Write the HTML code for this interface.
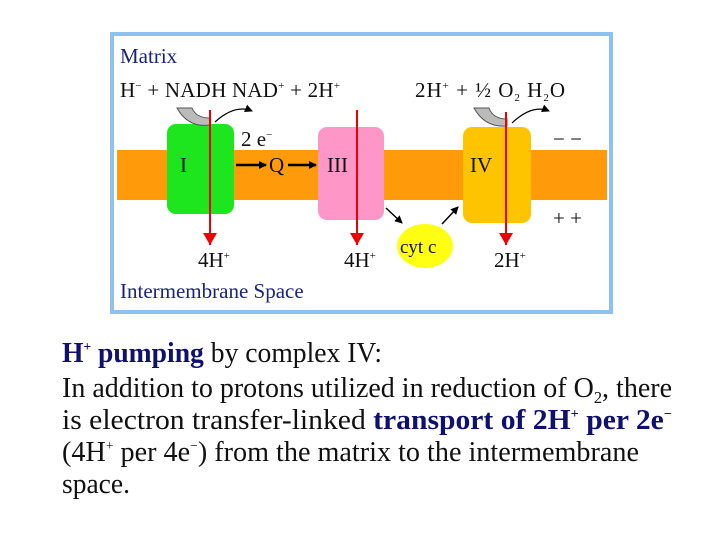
<!DOCTYPE html>
<html><head><meta charset="utf-8"><style>
body{margin:0;width:720px;height:540px;background:#fff;overflow:hidden;font-family:"Liberation Serif",serif;}
.ln{position:absolute;left:62px;white-space:nowrap;font-size:29px;line-height:29px;transform-origin:0 0;color:#111;}
.ln b{color:#0f1070;}
sup{font-size:14px;vertical-align:11px;line-height:0}
sub{font-size:17px;vertical-align:-6px;line-height:0}
</style></head><body>
<svg width="720" height="320" style="position:absolute;left:0;top:0" font-family="Liberation Serif, serif">
<defs>
<marker id="rh" markerWidth="14" markerHeight="14" refX="12" refY="7" orient="auto" markerUnits="userSpaceOnUse"><path d="M0,0 L12,7 L0,14 Z" fill="#e00"/></marker>
<marker id="bh" markerWidth="8" markerHeight="8" refX="7" refY="4" orient="auto" markerUnits="userSpaceOnUse"><path d="M0,0 L8,4 L0,8 Z" fill="#000"/></marker>
</defs>
<rect x="112" y="34" width="499" height="278" fill="#fff" stroke="#8fc1f0" stroke-width="4"/>
<rect x="117" y="150" width="490" height="50" fill="#ff9a0a"/>
<rect x="167" y="124" width="67" height="90" rx="9" fill="#1ee61e"/>
<rect x="318" y="127" width="66" height="93" rx="9" fill="#ff96c8"/>
<rect x="463" y="127" width="68" height="96" rx="9" fill="#ffc400"/>
<ellipse cx="425" cy="246" rx="28" ry="22" fill="#ffff14"/>
<path d="M177,108 Q188,128 210,125 L210,118 Q196,118 192,108 Z" fill="#bbb" stroke="#555" stroke-width="1"/>
<path d="M215,122 Q235,104 252,111" fill="none" stroke="#000" stroke-width="1.2" marker-end="url(#bh)"/>
<path d="M474,108 Q485,128 507,126 L507,119 Q493,119 489,108 Z" fill="#bbb" stroke="#555" stroke-width="1"/>
<path d="M512,123 Q532,104 549,111" fill="none" stroke="#000" stroke-width="1.2" marker-end="url(#bh)"/>
<line x1="210" y1="110" x2="210" y2="245" stroke="#e00" stroke-width="2" marker-end="url(#rh)"/>
<line x1="357" y1="110" x2="357" y2="245" stroke="#e00" stroke-width="2" marker-end="url(#rh)"/>
<line x1="506" y1="112" x2="506" y2="245" stroke="#e00" stroke-width="2" marker-end="url(#rh)"/>
<line x1="236" y1="165" x2="266" y2="165" stroke="#000" stroke-width="2.5" marker-end="url(#bh)"/>
<line x1="288" y1="165" x2="316" y2="165" stroke="#000" stroke-width="2.5" marker-end="url(#bh)"/>
<line x1="386" y1="208" x2="402" y2="223" stroke="#000" stroke-width="1.5" marker-end="url(#bh)"/>
<line x1="442" y1="224" x2="458" y2="207" stroke="#000" stroke-width="1.5" marker-end="url(#bh)"/>
<g font-size="21" fill="#111">
<text x="120" y="63" fill="#1a237e">Matrix</text>
<text x="120" y="97" textLength="220">H<tspan font-size="11" dy="-8">−</tspan><tspan dy="8"> + NADH  NAD</tspan><tspan font-size="11" dy="-8">+</tspan><tspan dy="8"> + 2H</tspan><tspan font-size="11" dy="-8">+</tspan></text>
<text x="415" y="97" textLength="150">2H<tspan font-size="11" dy="-8">+</tspan><tspan dy="8"> + ½ O</tspan><tspan font-size="11" dy="4">2</tspan><tspan dy="-4">  H</tspan><tspan font-size="11" dy="4">2</tspan><tspan dy="-4">O</tspan></text>
<text x="241" y="146">2 e<tspan font-size="11" dy="-8">−</tspan></text>
<text x="180" y="172">I</text>
<text x="269" y="172">Q</text>
<text x="327" y="172">III</text>
<text x="470" y="172">IV</text>
<text x="553" y="146">− −</text>
<text x="553" y="225">+ +</text>
<text x="400" y="253" font-size="19">cyt c</text>
<text x="198" y="267">4H<tspan font-size="11" dy="-8">+</tspan></text>
<text x="344" y="267">4H<tspan font-size="11" dy="-8">+</tspan></text>
<text x="494" y="267">2H<tspan font-size="11" dy="-8">+</tspan></text>
<text x="120" y="298" fill="#1a237e">Intermembrane Space</text>
</g>
</svg>
<div class="ln" data-w="320" style="top:339px"><b>H<sup>+</sup> pumping</b> by complex IV:</div>
<div class="ln" data-w="610" style="top:374px">In addition to protons utilized in reduction of O<sub>2</sub>, there</div>
<div class="ln" data-w="610" style="top:406px">is electron transfer-linked <b>transport of 2H<sup>+</sup> per 2e<sup>−</sup></b></div>
<div class="ln" data-w="577" style="top:438px">(4H<sup>+</sup> per 4e<sup>−</sup>) from the matrix to the intermembrane</div>
<div class="ln" data-w="68" style="top:470px">space.</div>
<script>
document.querySelectorAll('.ln').forEach(function(el){
  var w=el.getBoundingClientRect().width;
  var t=parseFloat(el.getAttribute('data-w'));
  el.style.transform='scaleX('+(t/w)+')';
});
</script>
</body></html>
